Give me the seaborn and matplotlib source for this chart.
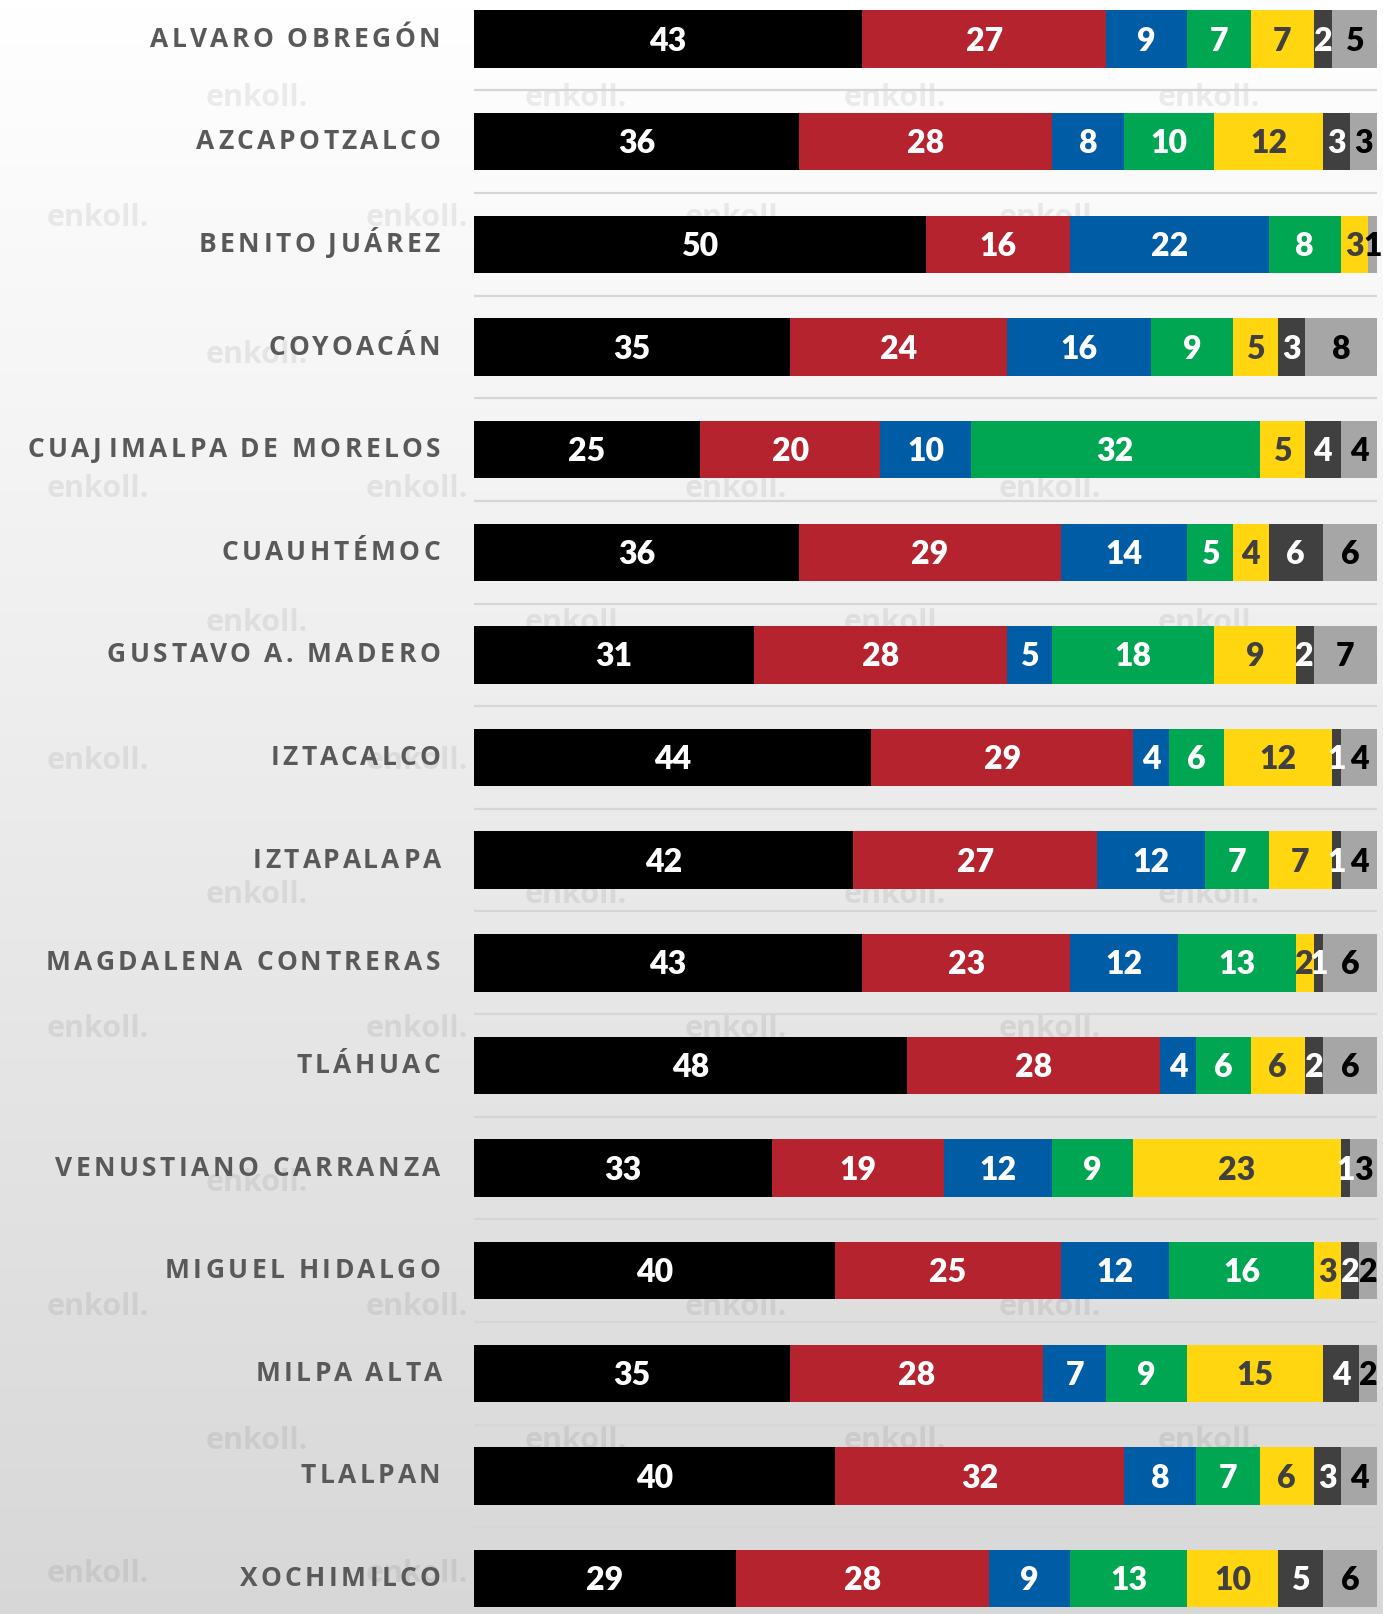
import numpy as np
import pandas as pd
import matplotlib
matplotlib.use("Agg")
import matplotlib.pyplot as plt
import matplotlib.transforms as mtrans
from matplotlib.font_manager import FontProperties
import seaborn as sns

# ---------------- data ----------------
alcaldias = ["ALVARO OBREGÓN", "AZCAPOTZALCO", "BENITO JUÁREZ", "COYOACÁN",
             "CUAJIMALPA DE MORELOS", "CUAUHTÉMOC", "GUSTAVO A. MADERO", "IZTACALCO",
             "IZTAPALAPA", "MAGDALENA CONTRERAS", "TLÁHUAC", "VENUSTIANO CARRANZA",
             "MIGUEL HIDALGO", "MILPA ALTA", "TLALPAN", "XOCHIMILCO"]
negro    = [43, 36, 50, 35, 25, 36, 31, 44, 42, 43, 48, 33, 40, 35, 40, 29]
rojo     = [27, 28, 16, 24, 20, 29, 28, 29, 27, 23, 28, 19, 25, 28, 32, 28]
azul     = [9, 8, 22, 16, 10, 14, 5, 4, 12, 12, 4, 12, 12, 7, 8, 9]
verde    = [7, 10, 8, 9, 32, 5, 18, 6, 7, 13, 6, 9, 16, 9, 7, 13]
amarillo = [7, 12, 3, 5, 5, 4, 9, 12, 7, 2, 6, 23, 3, 15, 6, 10]
gris_osc = [2, 3, 0, 3, 4, 6, 2, 1, 1, 1, 2, 1, 2, 4, 3, 5]
gris_cla = [5, 3, 1, 8, 4, 6, 7, 4, 4, 6, 6, 3, 2, 2, 4, 6]

series = [negro, rojo, azul, verde, amarillo, gris_osc, gris_cla]
colores = ["#000000", "#B5232F", "#005CA5", "#00A651", "#FFD60F", "#404040", "#A6A6A6"]
col_texto = ["white", "white", "white", "white", "#404040", "white", "black"]

# ---------------- figure ----------------
sns.set_style("white")
plt.rcParams["font.family"] = ["Lato", "DejaVu Sans"]

W, H = 1383, 1614
fig = plt.figure(figsize=(W / 100, H / 100), dpi=100)

# background gradient
bg = fig.add_axes([0, 0, 1, 1], zorder=0)
grad = np.linspace(1.0, 0.845, 256).reshape(-1, 1)
bg.imshow(np.dstack([grad, grad, grad]), aspect="auto", extent=[0, 1, 0, 1], origin="upper")
bg.set_xlim(0, 1); bg.set_ylim(0, 1)
bg.axis("off")

# faint watermarks
wm_y = [95, 212, 345, 475, 605, 740, 870, 1000, 1150, 1270, 1400, 1530]
for k, yy in enumerate(wm_y):
    xs = [250, 560, 870, 1175] if k % 2 == 0 else [95, 405, 715, 1020]
    for xx in xs:
        bg.text(xx * 1.029 / W, 1 - yy * 1.029 / H, "enkoll.", fontsize=22, fontweight="bold",
                color="black", alpha=0.07, ha="center", va="center",
                family=["Open Sans", "DejaVu Sans"])

ax = fig.add_axes([474 / W, 0, 909 / W, 1], zorder=1)
ax.patch.set_alpha(0)

n = len(alcaldias)
# separators
for i in range(n - 1):
    ax.plot([0, 100], [i + 0.5, i + 0.5], color="#d6d6d6", lw=1.6, zorder=0.5,
            solid_capstyle="butt")

cum = np.cumsum(np.array(series), axis=0)
for j in range(len(series) - 1, -1, -1):
    df = pd.DataFrame({"alcaldia": alcaldias, "valor": cum[j]})
    sns.barplot(data=df, x="valor", y="alcaldia", order=alcaldias, color=colores[j],
                saturation=1, width=0.56, errorbar=None, orient="h", linewidth=0, ax=ax)

for j, s in enumerate(series):
    left = cum[j] - np.array(s)
    for i, v in enumerate(s):
        if v <= 0:
            continue
        ax.text(left[i] + v / 2, i + 0.02, str(v), ha="center", va="center",
                color=col_texto[j], fontsize=23, fontweight="heavy", zorder=5)

ax.set_xlim(0, 100.66)
ax.set_ylim(15.345, -0.381)
ax.set_yticks([]); ax.set_xticks([])
ax.set_xlabel(""); ax.set_ylabel("")
for sp in ax.spines.values():
    sp.set_visible(False)

# letter-spaced category labels, right aligned at x = 440 px
renderer = fig.canvas.get_renderer()
prop = FontProperties(family=["Open Sans", "DejaVu Sans"], weight="bold", size=19)
spacing = 3.5  # px between letters
right_px = 440.0
trans = mtrans.blended_transform_factory(fig.transFigure, ax.transData)
for i, name in enumerate(alcaldias):
    prefix_w = [renderer.get_text_width_height_descent(name[:k], prop, ismath=False)[0]
                if k > 0 else 0.0 for k in range(len(name) + 1)]
    total = prefix_w[-1] + spacing * (len(name) - 1)
    x0 = right_px - total
    for k, ch in enumerate(name):
        if ch == " ":
            continue
        xp = x0 + prefix_w[k] + spacing * k
        fig.text(xp / W, i, ch, transform=trans, ha="left", va="center",
                 fontproperties=prop, color="#595959", zorder=3)

fig.savefig("out.png", dpi=100)
